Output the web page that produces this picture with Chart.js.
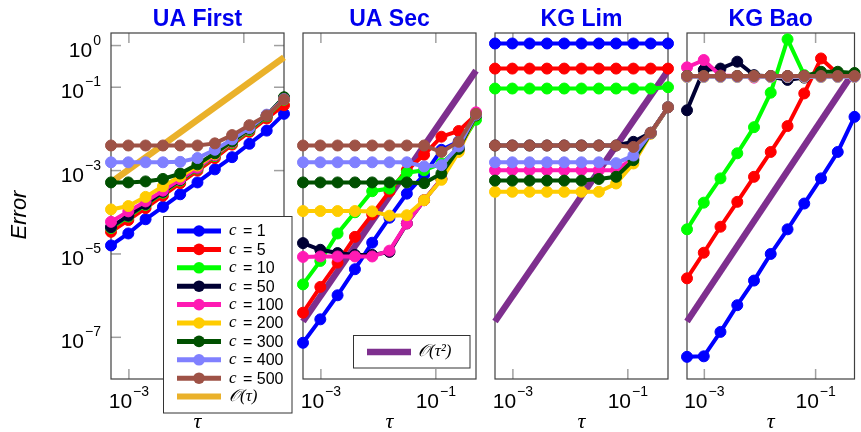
<!DOCTYPE html>
<html>
<head>
<meta charset="utf-8">
<script src="https://cdn.jsdelivr.net/npm/chart.js@4.4.1/dist/chart.umd.min.js"></script>
<style>
  html, body { margin: 0; padding: 0; background: #fff; }
  #wrap { position: relative; width: 861px; height: 432px; overflow: hidden; }
  #wrap canvas { position: absolute; left: 0; top: 0; }
</style>
</head>
<body>
<div id="wrap">
  <canvas id="p0" width="861" height="432"></canvas>
  <canvas id="p1" width="861" height="432"></canvas>
  <canvas id="p2" width="861" height="432"></canvas>
  <canvas id="p3" width="861" height="432"></canvas>
</div>
<script>
// time steps tau (same for every panel)
var tau = [0.000488, 0.000977, 0.00195, 0.00391, 0.00781, 0.0156, 0.0313, 0.0625, 0.125, 0.25, 0.5];

var seriesLabels = ['1', '5', '10', '50', '100', '200', '300', '400', '500'];
var seriesColors = ['#0000ff', '#ff0000', '#00ff00', '#000033', '#ff1ab3', '#ffcc00', '#005000', '#8080ff', '#9e5246'];
var panelTitles = ['UA First', 'UA Sec', 'KG Lim', 'KG Bao'];

var xTicks = [1e-3, 1e-1];
var xTickExp = ['\u22123', '\u22121'];
var yTicks = [1, 1e-1, 1e-3, 1e-5, 1e-7];
var yTickExp = ['0', '\u22121', '\u22123', '\u22125', '\u22127'];

// errors, one row per c (1, 5, 10, 50, 100, 200, 300, 400, 500)
var uaFirst = [
  [1.6e-5, 3.1e-5, 6.8e-5, 1.35e-4, 2.7e-4, 5.2e-4, 1.07e-3, 2.1e-3, 4.4e-3, 9.1e-3, 2.3e-2],
  [3.4e-5, 6.5e-5, 1.26e-4, 2.5e-4, 5.0e-4, 1.0e-3, 2.0e-3, 4.2e-3, 8.5e-3, 1.78e-2, 3.7e-2],
  [4.2e-5, 7.9e-5, 1.51e-4, 2.95e-4, 5.75e-4, 1.12e-3, 2.24e-3, 4.6e-3, 9.3e-3, 2.0e-2, 5.0e-2],
  [4.4e-5, 8.3e-5, 1.58e-4, 3.1e-4, 6.0e-4, 1.17e-3, 2.34e-3, 4.8e-3, 9.8e-3, 2.1e-2, 5.6e-2],
  [5.9e-5, 1.05e-4, 1.82e-4, 3.3e-4, 6.2e-4, 1.17e-3, 2.34e-3, 4.8e-3, 9.8e-3, 2.1e-2, 5.2e-2],
  [1.17e-4, 1.41e-4, 2.34e-4, 4.2e-4, 7.2e-4, 1.32e-3, 2.5e-3, 5.0e-3, 1.0e-2, 2.1e-2, 5.5e-2],
  [5.2e-4, 5.2e-4, 5.5e-4, 6.3e-4, 8.5e-4, 1.41e-3, 2.6e-3, 5.0e-3, 1.0e-2, 2.1e-2, 5.75e-2],
  [1.58e-3, 1.58e-3, 1.58e-3, 1.58e-3, 1.62e-3, 2.0e-3, 3.16e-3, 5.6e-3, 1.05e-2, 2.2e-2, 5.2e-2],
  [4.0e-3, 4.0e-3, 4.0e-3, 4.0e-3, 4.0e-3, 4.0e-3, 4.5e-3, 7.1e-3, 1.23e-2, 2.1e-2, 5.1e-2]
];
var uaSec = [
  [7.4e-8, 2.7e-7, 1.02e-6, 4.3e-6, 1.86e-5, 7.4e-5, 2.8e-4, 7.9e-4, 3.16e-3, 5.0e-3, 2.0e-2],
  [3.9e-7, 1.62e-6, 6.2e-6, 2.57e-5, 8.9e-5, 3.16e-4, 1.02e-3, 2.4e-3, 6.5e-3, 8.9e-3, 2.2e-2],
  [1.86e-6, 6.8e-6, 3.1e-5, 1.0e-4, 3.2e-4, 3.7e-4, 8.9e-4, 1.02e-3, 1.48e-3, 3.5e-3, 1.66e-2],
  [1.82e-5, 1.26e-5, 1.05e-5, 9.5e-6, 9.5e-6, 1.12e-5, 5.4e-5, 1.95e-4, 6.3e-4, 3.16e-3, 2.1e-2],
  [8.5e-6, 8.7e-6, 8.7e-6, 8.7e-6, 8.7e-6, 1.2e-5, 5.4e-5, 1.95e-4, 6.3e-4, 3.16e-3, 2.5e-2],
  [1.07e-4, 1.07e-4, 1.07e-4, 1.07e-4, 1.05e-4, 8.3e-5, 8.5e-5, 1.95e-4, 6.0e-4, 2.8e-3, 2.1e-2],
  [5.2e-4, 5.2e-4, 5.2e-4, 5.2e-4, 5.2e-4, 5.2e-4, 5.2e-4, 5.0e-4, 8.5e-4, 3.3e-3, 2.1e-2],
  [1.58e-3, 1.58e-3, 1.58e-3, 1.58e-3, 1.58e-3, 1.58e-3, 1.58e-3, 1.26e-3, 1.35e-3, 3.8e-3, 2.2e-2],
  [4.0e-3, 4.0e-3, 4.0e-3, 4.0e-3, 4.0e-3, 4.0e-3, 4.0e-3, 4.0e-3, 2.8e-3, 4.9e-3, 2.3e-2]
];
var kgLim = [
  [1.12, 1.12, 1.12, 1.12, 1.12, 1.12, 1.12, 1.12, 1.12, 1.12, 1.12],
  [0.28, 0.28, 0.28, 0.28, 0.28, 0.28, 0.28, 0.28, 0.28, 0.28, 0.28],
  [0.093, 0.093, 0.093, 0.093, 0.093, 0.093, 0.093, 0.093, 0.093, 0.093, 0.1],
  [4.0e-3, 4.0e-3, 4.0e-3, 4.0e-3, 4.0e-3, 4.0e-3, 4.0e-3, 4.0e-3, 4.9e-3, 8.1e-3, 3.3e-2],
  [1.02e-3, 1.02e-3, 1.02e-3, 1.02e-3, 1.02e-3, 1.02e-3, 1.02e-3, 1.02e-3, 2.0e-3, 7.9e-3, 3.3e-2],
  [3.1e-4, 3.1e-4, 3.1e-4, 3.1e-4, 3.1e-4, 3.1e-4, 3.1e-4, 4.9e-4, 1.48e-3, 7.6e-3, 3.3e-2],
  [5.75e-4, 5.75e-4, 5.75e-4, 5.75e-4, 5.75e-4, 5.75e-4, 6.3e-4, 7.1e-4, 1.78e-3, 7.9e-3, 3.3e-2],
  [1.58e-3, 1.58e-3, 1.58e-3, 1.58e-3, 1.58e-3, 1.58e-3, 1.58e-3, 1.51e-3, 2.3e-3, 7.9e-3, 3.3e-2],
  [4.0e-3, 4.0e-3, 4.0e-3, 4.0e-3, 4.0e-3, 4.0e-3, 4.0e-3, 4.0e-3, 3.7e-3, 8.1e-3, 3.3e-2]
];
var kgBao = [
  [3.4e-8, 3.5e-8, 1.35e-7, 5.9e-7, 2.3e-6, 1.0e-5, 3.9e-5, 1.62e-4, 6.5e-4, 2.8e-3, 1.95e-2],
  [2.6e-6, 1.07e-5, 4.5e-5, 1.78e-4, 7.1e-4, 2.8e-3, 1.17e-2, 7.1e-2, 0.49, 0.21, 0.19],
  [3.9e-5, 1.7e-4, 6.5e-4, 2.6e-3, 1.1e-2, 7.4e-2, 1.41, 0.195, 0.186, 0.186, 0.186],
  [2.8e-2, 0.26, 0.28, 0.41, 0.195, 0.18, 0.15, 0.17, 0.186, 0.186, 0.186],
  [0.30, 0.45, 0.19, 0.186, 0.17, 0.186, 0.186, 0.186, 0.186, 0.186, 0.186],
  [0.175, 0.175, 0.175, 0.175, 0.175, 0.175, 0.175, 0.175, 0.175, 0.175, 0.175],
  [0.186, 0.186, 0.186, 0.186, 0.186, 0.186, 0.186, 0.186, 0.235, 0.235, 0.22],
  [0.178, 0.178, 0.178, 0.178, 0.178, 0.178, 0.178, 0.178, 0.178, 0.178, 0.178],
  [0.186, 0.186, 0.186, 0.186, 0.186, 0.186, 0.186, 0.186, 0.186, 0.186, 0.186]
];

// reference slopes, values at first and last tau
var orderOne = [5.2e-4, 0.52];
var orderTwo = [2.4e-7, 0.25];
var orderOneColor = '#eab12a';
var orderTwoColor = '#7e2f8e';

var panelLeft = [111, 303, 495, 687];
var panelW = 173, plotTop = 33, plotBottom = 379;
var sansFont = '"Liberation Sans", Arial, sans-serif';
var serifFont = '"Liberation Serif", "DejaVu Serif", serif';

function drawPow(ctx, exp, x, y, align) {
  var base = '21px ' + sansFont, sup = '14px ' + sansFont;
  ctx.font = base; var wb = ctx.measureText('10').width;
  ctx.font = sup; var we = ctx.measureText(exp).width;
  var x0 = align === 'right' ? x - wb - we - 1 : x - (wb + we + 1) / 2;
  ctx.textAlign = 'left'; ctx.textBaseline = 'alphabetic';
  ctx.font = base; ctx.fillText('10', x0, y);
  ctx.font = sup; ctx.fillText(exp, x0 + wb + 1, y - 12);
}

function seg(ctx, x1, y1, x2, y2) {
  ctx.beginPath(); ctx.moveTo(x1, y1); ctx.lineTo(x2, y2); ctx.stroke();
}

function drawLegendC(ctx) {
  var x0 = 163.5, y0 = 216.5, w = 128.5, h = 196.5;
  ctx.save();
  ctx.fillStyle = '#fff'; ctx.fillRect(x0, y0, w, h);
  ctx.strokeStyle = '#333'; ctx.lineWidth = 1; ctx.strokeRect(x0, y0, w, h);
  for (var j = 0; j < seriesLabels.length; j++) {
    var y = 231 + j * 18.4;
    ctx.strokeStyle = seriesColors[j]; ctx.lineWidth = 5;
    seg(ctx, 177, y, 221, y);
    ctx.fillStyle = seriesColors[j];
    ctx.beginPath(); ctx.arc(199, y, 5.8, 0, Math.PI * 2); ctx.fill();
    ctx.fillStyle = '#000'; ctx.textBaseline = 'middle'; ctx.textAlign = 'left';
    ctx.font = 'italic 17px ' + serifFont; ctx.fillText('c', 229, y);
    ctx.font = '16px ' + sansFont; ctx.fillText('= ' + seriesLabels[j], 243, y + 1);
  }
  var yo = 231 + 9 * 18.4;
  ctx.strokeStyle = orderOneColor; ctx.lineWidth = 6;
  seg(ctx, 177, yo, 221, yo);
  ctx.fillStyle = '#000'; ctx.font = 'italic 17px ' + serifFont;
  ctx.fillText('\ud835\udcaa(\u03c4)', 229, yo);
  ctx.restore();
}

function drawLegendTwo(ctx) {
  var x0 = 353.5, y0 = 335.5, w = 116.5, h = 32.5;
  ctx.save();
  ctx.fillStyle = '#fff'; ctx.fillRect(x0, y0, w, h);
  ctx.strokeStyle = '#333'; ctx.lineWidth = 1; ctx.strokeRect(x0, y0, w, h);
  ctx.strokeStyle = orderTwoColor; ctx.lineWidth = 6.5;
  seg(ctx, 367, 352, 411, 352);
  ctx.fillStyle = '#000'; ctx.textBaseline = 'middle'; ctx.textAlign = 'left';
  ctx.font = 'italic 17px ' + serifFont;
  ctx.fillText('\ud835\udcaa(\u03c4\u00b2)', 418, 352);
  ctx.restore();
}

function decoPlugin(i) {
  return {
    id: 'deco' + i,
    beforeDatasetsDraw: function (chart) {
      var a = chart.chartArea, ctx = chart.ctx;
      var sx = chart.scales.x, sy = chart.scales.y;
      ctx.save();
      ctx.strokeStyle = '#a0a0a0'; ctx.lineWidth = 1.5;
      xTicks.forEach(function (v) {
        var px = sx.getPixelForValue(v);
        seg(ctx, px, a.bottom, px, a.bottom - 10);
        seg(ctx, px, a.top, px, a.top + 10);
      });
      if (i === 0) {
        yTicks.forEach(function (v) {
          var py = sy.getPixelForValue(v);
          seg(ctx, a.left, py, a.left + 10, py);
          seg(ctx, a.right, py, a.right - 10, py);
        });
      }
      ctx.strokeStyle = '#404040'; ctx.lineWidth = 1.2;
      ctx.strokeRect(a.left, a.top, a.right - a.left, a.bottom - a.top);
      ctx.restore();
    },
    afterDraw: function (chart) {
      var a = chart.chartArea, ctx = chart.ctx;
      var sx = chart.scales.x, sy = chart.scales.y;
      var cx = (a.left + a.right) / 2;
      ctx.save();
      ctx.fillStyle = '#0000ee'; ctx.textAlign = 'center'; ctx.textBaseline = 'alphabetic';
      ctx.font = 'bold 23px ' + sansFont;
      ctx.fillText(panelTitles[i], cx, 26);
      ctx.fillStyle = '#000';
      xTicks.forEach(function (v, k) {
        drawPow(ctx, xTickExp[k], sx.getPixelForValue(v), 408, 'center');
      });
      ctx.font = 'italic 22px ' + serifFont; ctx.textAlign = 'center';
      ctx.fillText('\u03c4', cx, 428);
      if (i === 0) {
        yTicks.forEach(function (v, k) {
          drawPow(ctx, yTickExp[k], 101, sy.getPixelForValue(v) + 11, 'right');
        });
        ctx.save();
        ctx.translate(20, 215); ctx.rotate(-Math.PI / 2);
        ctx.font = 'italic 22px ' + sansFont; ctx.textAlign = 'center'; ctx.textBaseline = 'middle';
        ctx.fillText('Error', 0, 0);
        ctx.restore();
        drawLegendC(ctx);
      }
      if (i === 1) drawLegendTwo(ctx);
      ctx.restore();
    }
  };
}

function makePanel(i, series, ref, refColor) {
  var datasets = series.map(function (vals, j) {
    return {
      label: 'c = ' + seriesLabels[j],
      data: tau.map(function (t, k) { return { x: t, y: vals[k] }; }),
      borderColor: seriesColors[j],
      backgroundColor: seriesColors[j],
      pointBackgroundColor: seriesColors[j],
      pointBorderColor: seriesColors[j],
      borderWidth: 4,
      pointRadius: 5.5,
      pointBorderWidth: 1,
      showLine: true,
      clip: false,
      order: 9 - j
    };
  });
  datasets.push({
    label: 'ref',
    data: [{ x: tau[0], y: ref[0] }, { x: tau[tau.length - 1], y: ref[1] }],
    borderColor: refColor,
    borderWidth: 6.5,
    pointRadius: 0,
    showLine: true,
    clip: false,
    order: 20
  });
  return new Chart(document.getElementById('p' + i), {
    type: 'scatter',
    data: { datasets: datasets },
    options: {
      responsive: false,
      animation: false,
      devicePixelRatio: 1,
      layout: { padding: { left: panelLeft[i], right: 861 - panelLeft[i] - panelW, top: plotTop, bottom: 432 - plotBottom } },
      scales: {
        x: { type: 'logarithmic', min: tau[0], max: tau[tau.length - 1], display: false },
        y: { type: 'logarithmic', min: 1e-8, max: 2, display: false }
      },
      plugins: { legend: { display: false }, tooltip: { enabled: false } }
    },
    plugins: [decoPlugin(i)]
  });
}

makePanel(0, uaFirst, orderOne, orderOneColor);
makePanel(1, uaSec, orderTwo, orderTwoColor);
makePanel(2, kgLim, orderTwo, orderTwoColor);
makePanel(3, kgBao, orderTwo, orderTwoColor);
</script>
</body>
</html>
